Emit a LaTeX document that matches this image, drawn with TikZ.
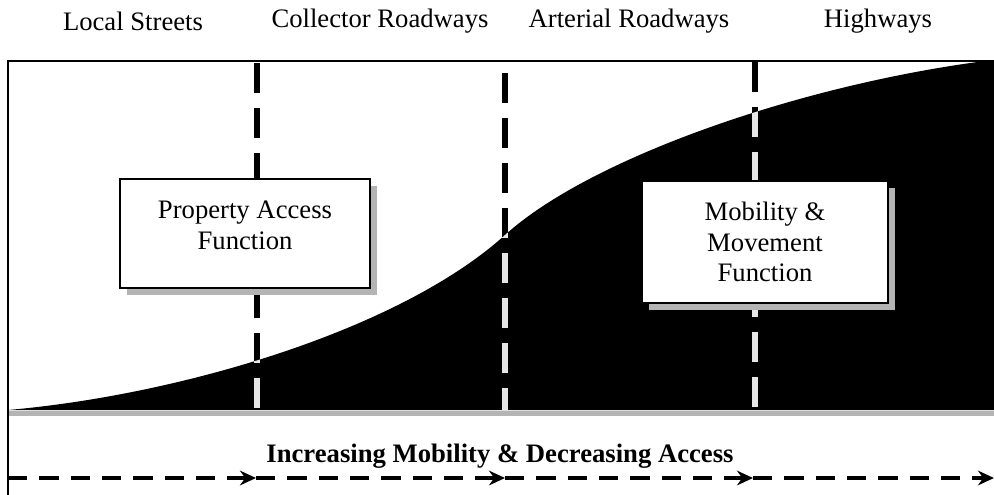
\documentclass[tikz,border=0pt]{standalone}
\usepackage{fontspec}
\setmainfont{Liberation Serif}
\usetikzlibrary{arrows.meta,shadows}
\definecolor{dashwhite}{HTML}{E6E6E6}
\definecolor{shadowgray}{HTML}{B4B4B4}
\begin{document}
\begin{tikzpicture}[x=0.75pt,y=-0.75pt,
  toplabel/.style={font=\fontsize{20}{23}\selectfont, inner sep=0pt},
  frameline/.style={line width=1.5pt, black},
  vdash/.style={line width=5pt, dash pattern=on 22.5pt off 11.25pt},
  funcbox/.style={draw=black, line width=1.2pt, fill=white, align=center,
    font=\fontsize{20}{23}\selectfont,
    drop shadow={shadow xshift=5.5pt, shadow yshift=-5pt, fill=shadowgray, opacity=1}},
  arrowline/.style={line width=2.4pt, dash pattern=on 14.5pt off 9pt, -{Stealth[length=12pt,width=11pt]}},
  bottomlabel/.style={font=\fontsize{20}{23}\selectfont\bfseries, inner sep=0pt}
]
\useasboundingbox (0,0) rectangle (994,495);
\def\areapath{(8,410) .. controls (180,395) and (400,330) .. (505,235)
  .. controls (590,158) and (800,85) .. (985,61) -- (994,61) -- (994,410) -- (8,410) -- cycle}

% top labels
\node[toplabel] (ls) at (133,21) {Local Streets};
\node[toplabel] (cr) at (380,21) {Collector Roadways};
\node[toplabel] (ar) at (629,21) {Arterial Roadways};
\node[toplabel] (hw) at (878,21) {Highways};

% vertical dashed separators (black part)
\coordinate (d1t) at (257,63);  \coordinate (d1b) at (257,410);
\coordinate (d2t) at (505,73);  \coordinate (d2b) at (505,410);
\coordinate (d3t) at (755,62);  \coordinate (d3b) at (755,410);
\draw[vdash, black] (d1t) -- (d1b);
\draw[vdash, black] (d2t) -- (d2b);
\draw[vdash, black] (d3t) -- (d3b);

% black area under the curve
\fill[black] \areapath;
\begin{scope}
  \clip \areapath;
  \draw[vdash, dashwhite] (d1t) -- (d1b);
  \draw[vdash, dashwhite] (d2t) -- (d2b);
  \draw[vdash, dashwhite] (d3t) -- (d3b);
\end{scope}

% gray band under the area
\fill[shadowgray] (8,411) rectangle (994,416);

% frame
\coordinate (tl) at (8,61);
\coordinate (tr) at (994,61);
\coordinate (bl) at (8,495);
\draw[frameline] (tr) -- (tl) -- (bl);

% function boxes
\node[funcbox, minimum width=187.5pt, minimum height=81.75pt] (pa) at (245,233.5)
  {Property Access\\Function\\[-11pt]};
\node[funcbox, minimum width=184.5pt, minimum height=91.5pt] (mm) at (765,242)
  {Mobility \&\\Movement\\Function};

% bottom label and arrows
\node[bottomlabel] (inc) at (500,456) {Increasing Mobility \& Decreasing Access};
\coordinate (a0) at (8,478);
\coordinate (a1) at (256,478);
\coordinate (a2) at (505,478);
\coordinate (a3) at (753,478);
\coordinate (a4) at (994,478);
\draw[arrowline] (a0) -- (a1);
\draw[arrowline] (a1) -- (a2);
\draw[arrowline] (a2) -- (a3);
\draw[arrowline] (a3) -- (a4);
\end{tikzpicture}
\end{document}
